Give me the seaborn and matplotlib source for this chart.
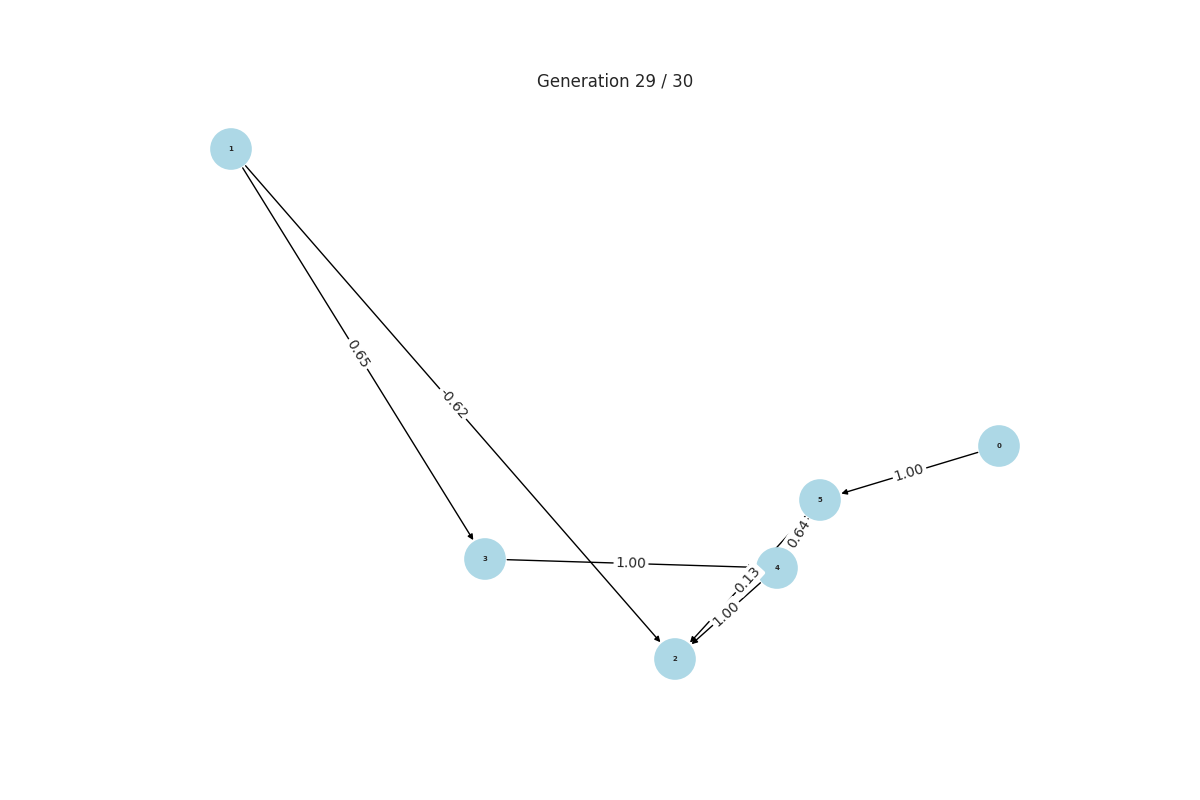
import numpy as np
import matplotlib
matplotlib.use("Agg")
import matplotlib.pyplot as plt
import seaborn as sns
from matplotlib.patches import FancyArrowPatch

sns.set_style("white")

# node layout (figure pixel coordinates)
nodes = ["0", "1", "2", "3", "4", "5"]
node_x = [999, 231, 675, 485, 777, 820]
node_y = [446, 149, 659, 559, 568, 500]

# directed edges and their weights
edge_src = ["1", "1", "0", "3", "5", "4", "5"]
edge_dst = ["3", "2", "5", "4", "4", "2", "2"]
edge_w = [0.65, -0.62, 1.00, 1.00, 0.64, 1.00, 0.13]

pos = {n: (x, y) for n, x, y in zip(nodes, node_x, node_y)}

fig = plt.figure(figsize=(12, 8), dpi=100)
ax = fig.add_axes([0, 0, 1, 1])
ax.set_xlim(0, 1200)
ax.set_ylim(800, 0)
ax.axis("off")

# edges
for s, d, w in zip(edge_src, edge_dst, edge_w):
    p1, p2 = pos[s], pos[d]
    arr = FancyArrowPatch(p1, p2, arrowstyle="-|>", mutation_scale=8,
                          color="black", lw=1, shrinkA=16, shrinkB=16, zorder=1)
    ax.add_patch(arr)
    mx, my = (p1[0] + p2[0]) / 2, (p1[1] + p2[1]) / 2
    ang = np.degrees(np.arctan2(-(p2[1] - p1[1]), p2[0] - p1[0]))
    if ang > 90:
        ang -= 180
    if ang < -90:
        ang += 180
    ax.text(mx, my, f"{w:.2f}", fontsize=10, ha="center", va="center",
            rotation=ang, rotation_mode="anchor", zorder=3,
            bbox=dict(boxstyle="round", fc="white", ec="white", pad=0.1))

# nodes
ax.scatter(node_x, node_y, s=900, color="lightblue", zorder=2, edgecolors="none")
for n, x, y in zip(nodes, node_x, node_y):
    ax.text(x, y, n, fontsize=5, fontweight="bold", ha="center", va="center", zorder=4)

ax.text(615, 82, "Generation 29 / 30", fontsize=12, ha="center", va="center")

fig.savefig("out.png", dpi=100)
